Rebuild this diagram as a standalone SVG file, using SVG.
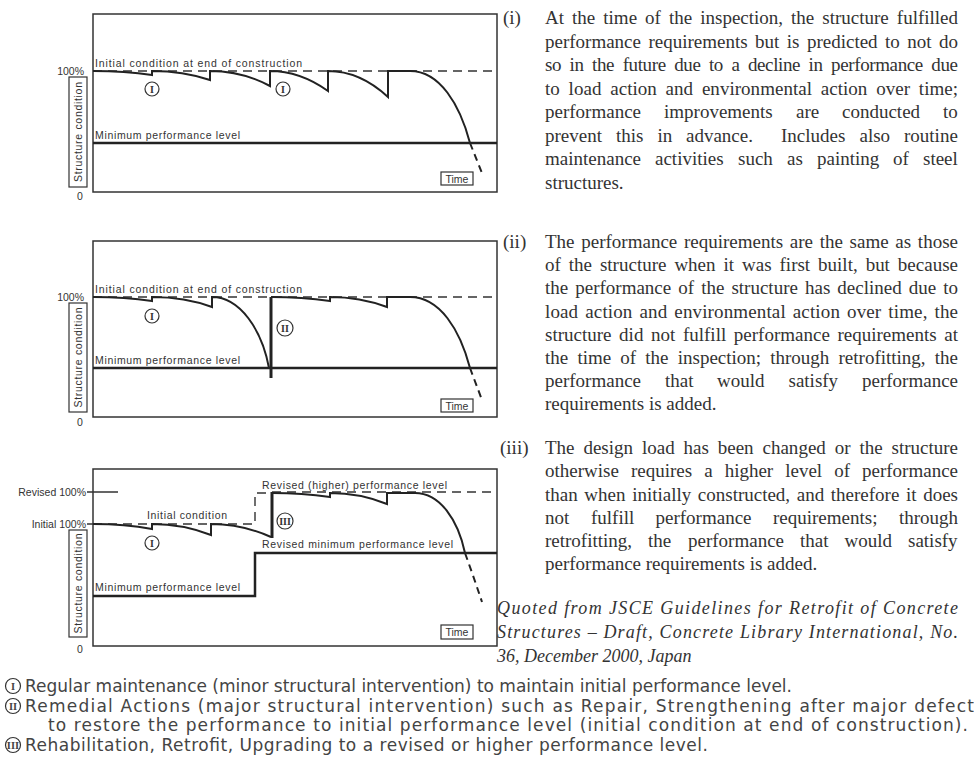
<svg xmlns="http://www.w3.org/2000/svg" width="974" height="781" viewBox="0 0 974 781">
<style>
.frame{fill:none;stroke:#333;stroke-width:1.5}
.curve{fill:none;stroke:#222;stroke-width:2}
.dcurve{fill:none;stroke:#222;stroke-width:2;stroke-dasharray:7 5}
.dash{fill:none;stroke:#333;stroke-width:1.4;stroke-dasharray:9 6}
.min{fill:none;stroke:#222;stroke-width:2.5}
.jump{fill:none;stroke:#222;stroke-width:3}
.lbl{font-family:"Liberation Sans",Arial,sans-serif;font-size:10.5px;fill:#333}
.ax{font-family:"Liberation Sans",Arial,sans-serif;font-size:10.5px;fill:#333}
.box{fill:none;stroke:#333;stroke-width:1.2}
.circ{fill:#fff;stroke:#333;stroke-width:1.2}
.rn{font-family:"Liberation Serif",serif;font-weight:bold;font-size:10px;fill:#333;text-anchor:middle}
.body{font-family:"Liberation Serif","Times New Roman",serif;font-size:19px;fill:#333}
.it{font-family:"Liberation Serif","Times New Roman",serif;font-size:18px;font-style:italic;fill:#333}
.leg{font-family:"DejaVu Sans","Liberation Sans",sans-serif;font-size:17px;fill:#444}
.lrn{font-family:"Liberation Serif",serif;font-weight:bold;font-size:10.5px;fill:#444;text-anchor:middle}
</style>
<rect width="974" height="781" fill="#fff"/>

<!-- Chart 1 -->
<g id="chart1">
  <rect class="frame" x="93" y="14" width="404" height="178"/>
  <path class="dash" d="M93,71 H497"/>
  <path class="min" d="M93,143 H497"/>
  <path class="curve" d="M93,71 Q125,71 152,75 L152,71 Q183,71 210,80 L210,71 Q242,71 270,86 L270,71 Q300,71 328,91 L328,71 Q360,71 388,97 L388,71 L410,71 C440,71 460,105 470,143"/>
  <path class="dcurve" d="M470,143 Q476,158 482,173"/>
  <text class="lbl" x="95" y="67" textLength="207" lengthAdjust="spacing">Initial condition at end of construction</text>
  <text class="lbl" x="95" y="139" textLength="145" lengthAdjust="spacing">Minimum performance level</text>
  <circle class="circ" cx="152" cy="89" r="7"/><text class="rn" x="152" y="92.5">I</text>
  <circle class="circ" cx="283" cy="89" r="7"/><text class="rn" x="283" y="92.5">I</text>
  <text class="ax" x="84" y="75" text-anchor="end">100%</text>
  <text class="ax" x="80" y="200" text-anchor="middle">0</text>
  <rect class="box" x="69" y="77" width="18" height="110"/>
  <text class="ax" transform="translate(82,132) rotate(-90)" text-anchor="middle" textLength="100" lengthAdjust="spacing">Structure condition</text>
  <rect class="box" x="441" y="172" width="32" height="13"/>
  <text class="ax" x="457" y="182.5" text-anchor="middle" font-size="10">Time</text>
</g>

<!-- Chart 2 -->
<g id="chart2">
  <rect class="frame" x="93" y="241" width="404" height="176"/>
  <path class="dash" d="M93,297 H497"/>
  <path class="min" d="M93,368 H497"/>
  <path class="curve" d="M93,297 Q125,297 152,301 L152,297 Q185,297 212,307 L212,297 C240,297 262,330 269,368"/>
  <path class="jump" d="M271,378 V297"/>
  <path class="curve" d="M271,297 Q302,297 330,301 L330,297 Q360,297 387,307 L387,297 L410,297 C440,297 460,330 470,368"/>
  <path class="dcurve" d="M470,368 Q476,384 482,400"/>
  <text class="lbl" x="95" y="293" textLength="207" lengthAdjust="spacing">Initial condition at end of construction</text>
  <text class="lbl" x="95" y="364" textLength="145" lengthAdjust="spacing">Minimum performance level</text>
  <circle class="circ" cx="152" cy="316" r="7"/><text class="rn" x="152" y="319.5">I</text>
  <circle class="circ" cx="285" cy="328" r="8"/><text class="rn" x="285" y="331.5">II</text>
  <text class="ax" x="84" y="301" text-anchor="end">100%</text>
  <text class="ax" x="80" y="426" text-anchor="middle">0</text>
  <rect class="box" x="69" y="303" width="18" height="109"/>
  <text class="ax" transform="translate(82,357.5) rotate(-90)" text-anchor="middle" textLength="100" lengthAdjust="spacing">Structure condition</text>
  <rect class="box" x="441" y="399" width="32" height="13"/>
  <text class="ax" x="457" y="409.5" text-anchor="middle" font-size="10">Time</text>
</g>

<!-- Chart 3 -->
<g id="chart3">
  <rect class="frame" x="93" y="469" width="404" height="177"/>
  <path class="dash" d="M272,492 H497"/>
  <path class="dash" d="M93,524 H255 V493 H272"/>
  <path class="min" d="M93,596 H255 V553 H497"/>
  <path class="curve" d="M93,524 Q125,524 152,529 L152,524 Q183,524 211,535 L211,524 Q242,524 271,537"/>
  <path class="jump" d="M272,538 V492"/>
  <path class="curve" d="M272,493 Q302,493 330,497 L330,493 Q360,493 387,504 L387,493 L415,493 C440,493 458,520 465,553"/>
  <path class="dcurve" d="M465,553 Q474,578 482,602"/>
  <path fill="none" stroke="#333" stroke-width="1.5" d="M87,492 H118 M87,524 H93"/>
  <text class="lbl" x="147" y="519" textLength="80" lengthAdjust="spacing">Initial condition</text>
  <text class="lbl" x="262" y="489" textLength="185" lengthAdjust="spacing">Revised (higher) performance level</text>
  <text class="lbl" x="262" y="548" textLength="191" lengthAdjust="spacing">Revised minimum performance level</text>
  <text class="lbl" x="95" y="591" textLength="145" lengthAdjust="spacing">Minimum performance level</text>
  <circle class="circ" cx="285" cy="521" r="8"/><text class="rn" x="285" y="524.5">III</text>
  <circle class="circ" cx="152" cy="543" r="7"/><text class="rn" x="152" y="546.5">I</text>
  <text class="ax" x="86" y="496" text-anchor="end">Revised  100%</text>
  <text class="ax" x="86" y="528" text-anchor="end">Initial  100%</text>
  <text class="ax" x="80" y="653" text-anchor="middle">0</text>
  <rect class="box" x="69" y="530" width="18" height="107"/>
  <text class="ax" transform="translate(82,583.5) rotate(-90)" text-anchor="middle" textLength="100" lengthAdjust="spacing">Structure condition</text>
  <rect class="box" x="441" y="625" width="32" height="14"/>
  <text class="ax" x="457" y="636" text-anchor="middle" font-size="10">Time</text>
</g>

<!-- Paragraph (i) -->
<g id="para1" class="body">
  <text x="503" y="24">(i)</text>
  <text x="545" y="24" word-spacing="3.3" textLength="413" lengthAdjust="spacing">At the time of the inspection, the structure fulfilled</text>
  <text x="545" y="47.5" word-spacing="2.7" textLength="413" lengthAdjust="spacing">performance requirements but is predicted to not do</text>
  <text x="545" y="71" word-spacing="4.1" textLength="413" lengthAdjust="spacing">so in the future due to a decline in performance due</text>
  <text x="545" y="94.5" word-spacing="4" textLength="413" lengthAdjust="spacing">to load action and environmental action over time;</text>
  <text y="118"><tspan x="545">performance</tspan><tspan x="664">improvements</tspan><tspan x="796">are</tspan><tspan x="842">conducted</tspan><tspan x="943">to</tspan></text>
  <text y="141.5"><tspan x="545">prevent</tspan><tspan x="616">this</tspan><tspan x="657.5">in</tspan><tspan x="686">advance.</tspan><tspan x="781">Includes</tspan><tspan x="859.5">also</tspan><tspan x="904">routine</tspan></text>
  <text y="165"><tspan x="545">maintenance</tspan><tspan x="655">activities</tspan><tspan x="738">such</tspan><tspan x="787">as</tspan><tspan x="817">painting</tspan><tspan x="893">of</tspan><tspan x="923">steel</tspan></text>
  <text x="545" y="188.5">structures.</text>
</g>

<!-- Paragraph (ii) -->
<g id="para2" class="body">
  <text x="503" y="248">(ii)</text>
  <text x="545" y="248" word-spacing="1.9" textLength="413" lengthAdjust="spacing">The performance requirements are the same as those</text>
  <text x="545" y="271" word-spacing="3.2" textLength="413" lengthAdjust="spacing">of the structure when it was first built, but because</text>
  <text x="545" y="294" word-spacing="2.3" textLength="413" lengthAdjust="spacing">the performance of the structure has declined due to</text>
  <text x="545" y="317.5" word-spacing="2.1" textLength="413" lengthAdjust="spacing">load action and environmental action over time, the</text>
  <text x="545" y="340.5" word-spacing="2.9" textLength="413" lengthAdjust="spacing">structure did not fulfill performance requirements at</text>
  <text x="545" y="364" word-spacing="4.4" textLength="413" lengthAdjust="spacing">the time of the inspection; through retrofitting, the</text>
  <text y="387"><tspan x="545">performance</tspan><tspan x="665">that</tspan><tspan x="717">would</tspan><tspan x="788.5">satisfy</tspan><tspan x="862">performance</tspan></text>
  <text x="545" y="410">requirements is added.</text>
</g>

<!-- Paragraph (iii) -->
<g id="para3" class="body">
  <text x="500" y="454">(iii)</text>
  <text x="545" y="454" word-spacing="4.1" textLength="413" lengthAdjust="spacing">The design load has been changed or the structure</text>
  <text x="545" y="477" word-spacing="7.3" textLength="413" lengthAdjust="spacing">otherwise requires a higher level of performance</text>
  <text x="545" y="500.5" word-spacing="1.9" textLength="413" lengthAdjust="spacing">than when initially constructed, and therefore it does</text>
  <text y="523.5"><tspan x="545">not</tspan><tspan x="591">fulfill</tspan><tspan x="655.5">performance</tspan><tspan x="773">requirements;</tspan><tspan x="899">through</tspan></text>
  <text y="547"><tspan x="545">retrofitting,</tspan><tspan x="648">the</tspan><tspan x="688">performance</tspan><tspan x="800">that</tspan><tspan x="844.5">would</tspan><tspan x="908">satisfy</tspan></text>
  <text x="545" y="570">performance requirements is added.</text>
</g>

<!-- Quotation -->
<g id="quote" class="it">
  <text x="497" y="614" textLength="461" lengthAdjust="spacing">Quoted from  JSCE Guidelines for Retrofit of Concrete</text>
  <text x="497" y="638" textLength="461" lengthAdjust="spacing">Structures – Draft, Concrete Library International, No.</text>
  <text x="497" y="662">36, December 2000, Japan</text>
</g>

<!-- Legend -->
<g id="legend">
  <circle class="circ" cx="13" cy="686" r="7.5"/><text class="lrn" x="13" y="689.7">I</text>
  <text class="leg" x="25" y="692" textLength="767" lengthAdjust="spacing">Regular maintenance (minor structural intervention) to maintain initial performance level.</text>
  <circle class="circ" cx="13" cy="706" r="7.5"/><text class="lrn" x="13" y="709.7">II</text>
  <text class="leg" x="25" y="712" textLength="949" lengthAdjust="spacing">Remedial Actions (major structural intervention) such as Repair, Strengthening after major defect</text>
  <text class="leg" x="48" y="731" textLength="920" lengthAdjust="spacing">to restore the performance to initial performance level (initial condition at end of construction).</text>
  <circle class="circ" cx="13" cy="745" r="7.5"/><text class="lrn" x="13" y="748.7">III</text>
  <text class="leg" x="25" y="751" textLength="683" lengthAdjust="spacing">Rehabilitation, Retrofit, Upgrading to a revised or higher performance level.</text>
</g>
</svg>
